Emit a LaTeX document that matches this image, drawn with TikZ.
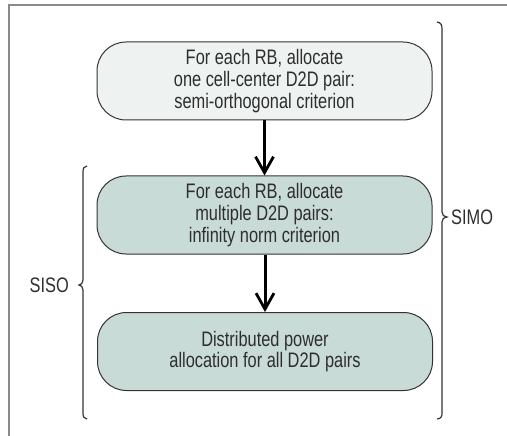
\documentclass[tikz,border=0pt]{standalone}
\usepackage{fontspec}
\setmainfont[FakeStretch=0.78]{Liberation Sans}
\usetikzlibrary{arrows.meta}
\definecolor{framegray}{HTML}{8A8A8A}
\definecolor{edgegray}{HTML}{333333}
\definecolor{textgray}{HTML}{2E2E2E}
\definecolor{lightfill}{HTML}{EEF3F1}
\definecolor{darkfill}{HTML}{C9DBD7}
\tikzset{
  stepbox/.style={draw=edgegray, line width=1pt, rounded corners=29pt,
    minimum width=335pt, minimum height=78pt, align=center,
    text=textgray, font=\fontsize{21}{21.7}\selectfont, inner sep=0pt},
  flowarrow/.style={line width=3pt, draw=black,
    -{Straight Barb[length=16pt,width=18pt,line width=2.8pt]}},
  bracepath/.style={draw=edgegray, line width=1.2pt},
  bracelabel/.style={text=textgray, font=\fontsize{21}{21.7}\selectfont, inner sep=0pt}
}
\begin{document}
\begin{tikzpicture}[x=1pt,y=-1pt]
\useasboundingbox (0,0) rectangle (507,436);
\fill[white] (0,0) rectangle (507,436);
\draw[framegray, line width=1.5pt] (9,436) -- (9,5) -- (507,5);

\node[stepbox, fill=lightfill] (b1) at (264.5,81) {For each RB, allocate\\one cell-center D2D pair:\\semi-orthogonal criterion};
\node[stepbox, fill=darkfill] (b2) at (264.5,215) {For each RB, allocate\\multiple D2D pairs:\\infinity norm criterion};
\node[stepbox, fill=darkfill] (b3) at (265,351.5) {Distributed power\\allocation for all D2D pairs};

\draw[flowarrow] (b1.south) -- (b2.north);
\draw[flowarrow] (b2.south -| b3.north) -- (b3.north);

% right brace (SIMO)
\coordinate (rtip) at (447,217);
\draw[bracepath] (437,22) .. controls (441,22.5) and (442,25) .. (442,29)
  -- (442,212) .. controls (442,215) and (444,217) .. (rtip)
  .. controls (444,217) and (442,219) .. (442,222)
  -- (442,413) .. controls (442,417) and (441,418.5) .. (437,419);
\node[bracelabel, anchor=west] (simo) at (451,217) {SIMO};

% left brace (SISO)
\coordinate (ltip) at (79,285);
\draw[bracepath] (87,166) .. controls (84,166.5) and (83,168) .. (83,172)
  -- (83,280) .. controls (83,283) and (81,285) .. (ltip)
  .. controls (81,285) and (83,287) .. (83,290)
  -- (83,413) .. controls (83,417) and (84,418.5) .. (87,419);
\node[bracelabel, anchor=east] (siso) at (69,285) {SISO};
\end{tikzpicture}
\end{document}
